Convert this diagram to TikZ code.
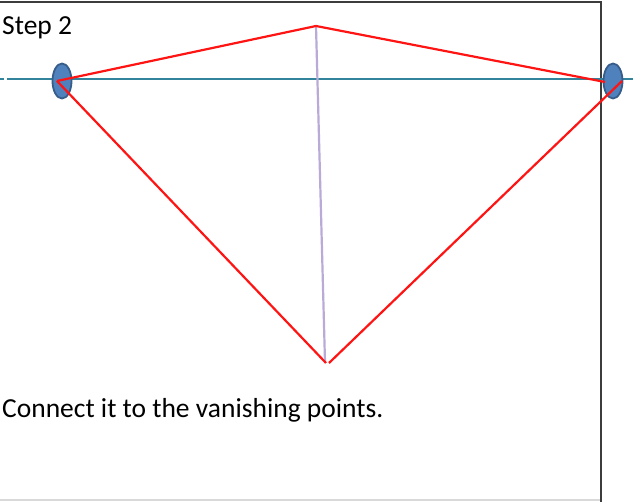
\documentclass[tikz,border=0pt]{standalone}
\usepackage{fontspec}
\setmainfont{Carlito}
\usetikzlibrary{shapes.geometric}
\definecolor{horizon}{RGB}{49,132,155}
\definecolor{vpfill}{RGB}{79,129,189}
\definecolor{vpdraw}{RGB}{56,93,138}
\definecolor{redline}{RGB}{255,20,20}
\definecolor{lav}{RGB}{185,170,215}
\definecolor{frame}{RGB}{60,60,60}
\tikzset{
  vp/.style={ellipse, fill=vpfill, draw=vpdraw, line width=1.8pt, minimum width=19pt, minimum height=35pt, inner sep=0pt},
  redseg/.style={draw=redline, line width=2.2pt},
  lavseg/.style={draw=lav, line width=2.2pt},
  hline/.style={draw=horizon, line width=2.2pt},
  label/.style={anchor=base west, inner sep=0pt, font=\fontsize{27.5}{32}\selectfont}
}
\begin{document}
\begin{tikzpicture}[x=1pt,y=-1pt]
\useasboundingbox (0,0) rectangle (633,502);
% frame
\draw[draw=frame, line width=2pt] (0,2) -- (601,2) -- (601,502);
\draw[draw=black!15, line width=2pt] (0,500.5) -- (600,500.5);
% horizon
\coordinate (h0) at (0,79);
\coordinate (h1) at (4,79);
\coordinate (h2) at (7,79);
\coordinate (h3) at (633,79);
\draw[hline] (h0) -- (h1);
\draw[hline] (h2) -- (h3);
% vanishing points
\node[vp] (vl) at (62,81) {};
\node[vp] (vr) at (613,81) {};
% key points
\coordinate (top) at (316,26);
\coordinate (bot) at (325,362);
\coordinate (botl) at (326,363);
\coordinate (botr) at (329,363);
\coordinate (l) at (57,81);
\coordinate (r1) at (605,82);
\coordinate (r2) at (622,81);
% vertical edge
\draw[lavseg] (top) -- (bot);
% red lines
\draw[redseg] (l) -- (top) -- (r1);
\draw[redseg] (l) -- (botl);
\draw[redseg] (r2) -- (botr);
% texts
\node[label] (step) at (2,35) {Step 2};
\node[label] (cap) at (2,418) {Connect it to the vanishing points.};
\end{tikzpicture}
\end{document}
